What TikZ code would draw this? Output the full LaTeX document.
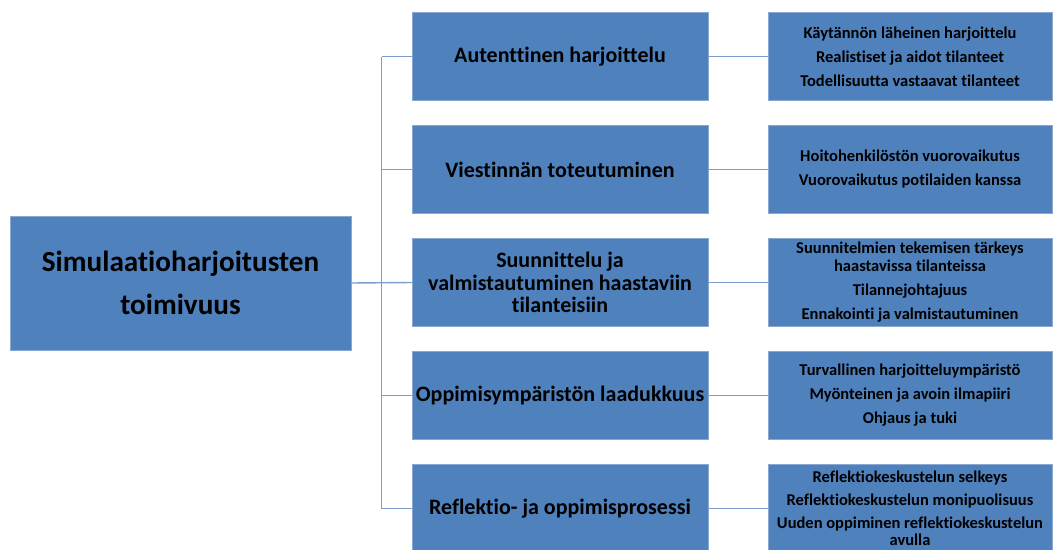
\documentclass[tikz,border=0pt]{standalone}
\usepackage{fontspec}
\setmainfont{Carlito}[Ligatures=NoCommon]
\usetikzlibrary{positioning}
\definecolor{boxblue}{RGB}{79,129,189}
\definecolor{boxedge}{RGB}{138,168,210}
\definecolor{linkblue}{RGB}{125,157,204}

\begin{document}
\begin{tikzpicture}[x=1pt,y=-1pt,node distance=113pt,on grid,
   box/.style={draw=boxedge,line width=0.8pt,fill=boxblue,align=center,inner sep=2pt},
   topic/.style={box,minimum width=296pt,minimum height=88pt,font=\fontsize{22}{22.5}\selectfont\bfseries},
   detail/.style={box,minimum width=284pt,minimum height=88pt,font=\fontsize{16.5}{18}\selectfont\bfseries},
   link/.style={draw=linkblue,line width=1.4pt}]
   \clip (0,0) rectangle (1055,549);
   \node[box,minimum width=341pt,minimum height=134pt,font=\fontsize{29.2}{43}\selectfont\bfseries] (root) at (180.5,283) {Simulaatioharjoitusten\\toimivuus};
   \node[topic] (t_1) at (560,56.5) {Autenttinen harjoittelu};
   \node[topic] (t_2) [below=of t_1] {Viestinnän toteutuminen};
   \node[topic] (t_3) [below=of t_2] {Suunnittelu ja\\valmistautuminen haastaviin\\tilanteisiin};
   \node[topic] (t_4) [below=of t_3] {Oppimisympäristön laadukkuus};
   \node[topic] (t_5) [below=of t_4] {Reflektio- ja oppimisprosessi};
   \node[detail] (d_1) [right=350pt of t_1] {Käytännön läheinen harjoittelu\\[6pt]Realistiset ja aidot tilanteet\\[6pt]Todellisuutta vastaavat tilanteet};
   \node[detail] (d_2) [right=350pt of t_2] {Hoitohenkilöstön vuorovaikutus\\[6pt]Vuorovaikutus potilaiden kanssa};
   \node[detail] (d_3) [right=350pt of t_3] {Suunnitelmien tekemisen tärkeys\\haastavissa tilanteissa\\[6pt]Tilannejohtajuus\\[6pt]Ennakointi ja valmistautuminen};
   \node[detail] (d_4) [right=350pt of t_4] {Turvallinen harjoitteluympäristö\\[6pt]Myönteinen ja avoin ilmapiiri\\[6pt]Ohjaus ja tuki};
   \node[detail,font=\fontsize{16.5}{17}\selectfont\bfseries] (d_5) [right=350pt of t_5] {Reflektiokeskustelun selkeys\\[6pt]Reflektiokeskustelun monipuolisuus\\[6pt]Uuden oppiminen reflektiokeskustelun\\avulla};
   \coordinate (spine) at (381.5,283);
   \draw[link] (root.east) -- (t_3.west);
   \draw[link] (spine |- t_1) -- (spine |- t_5);
   \foreach \i in {1,...,5} \draw[link] (spine |- t_\i) -- (t_\i.west);
   \foreach \i in {1,...,5} \draw[link] (t_\i.east) -- (d_\i.west);
\end{tikzpicture}
\end{document}
